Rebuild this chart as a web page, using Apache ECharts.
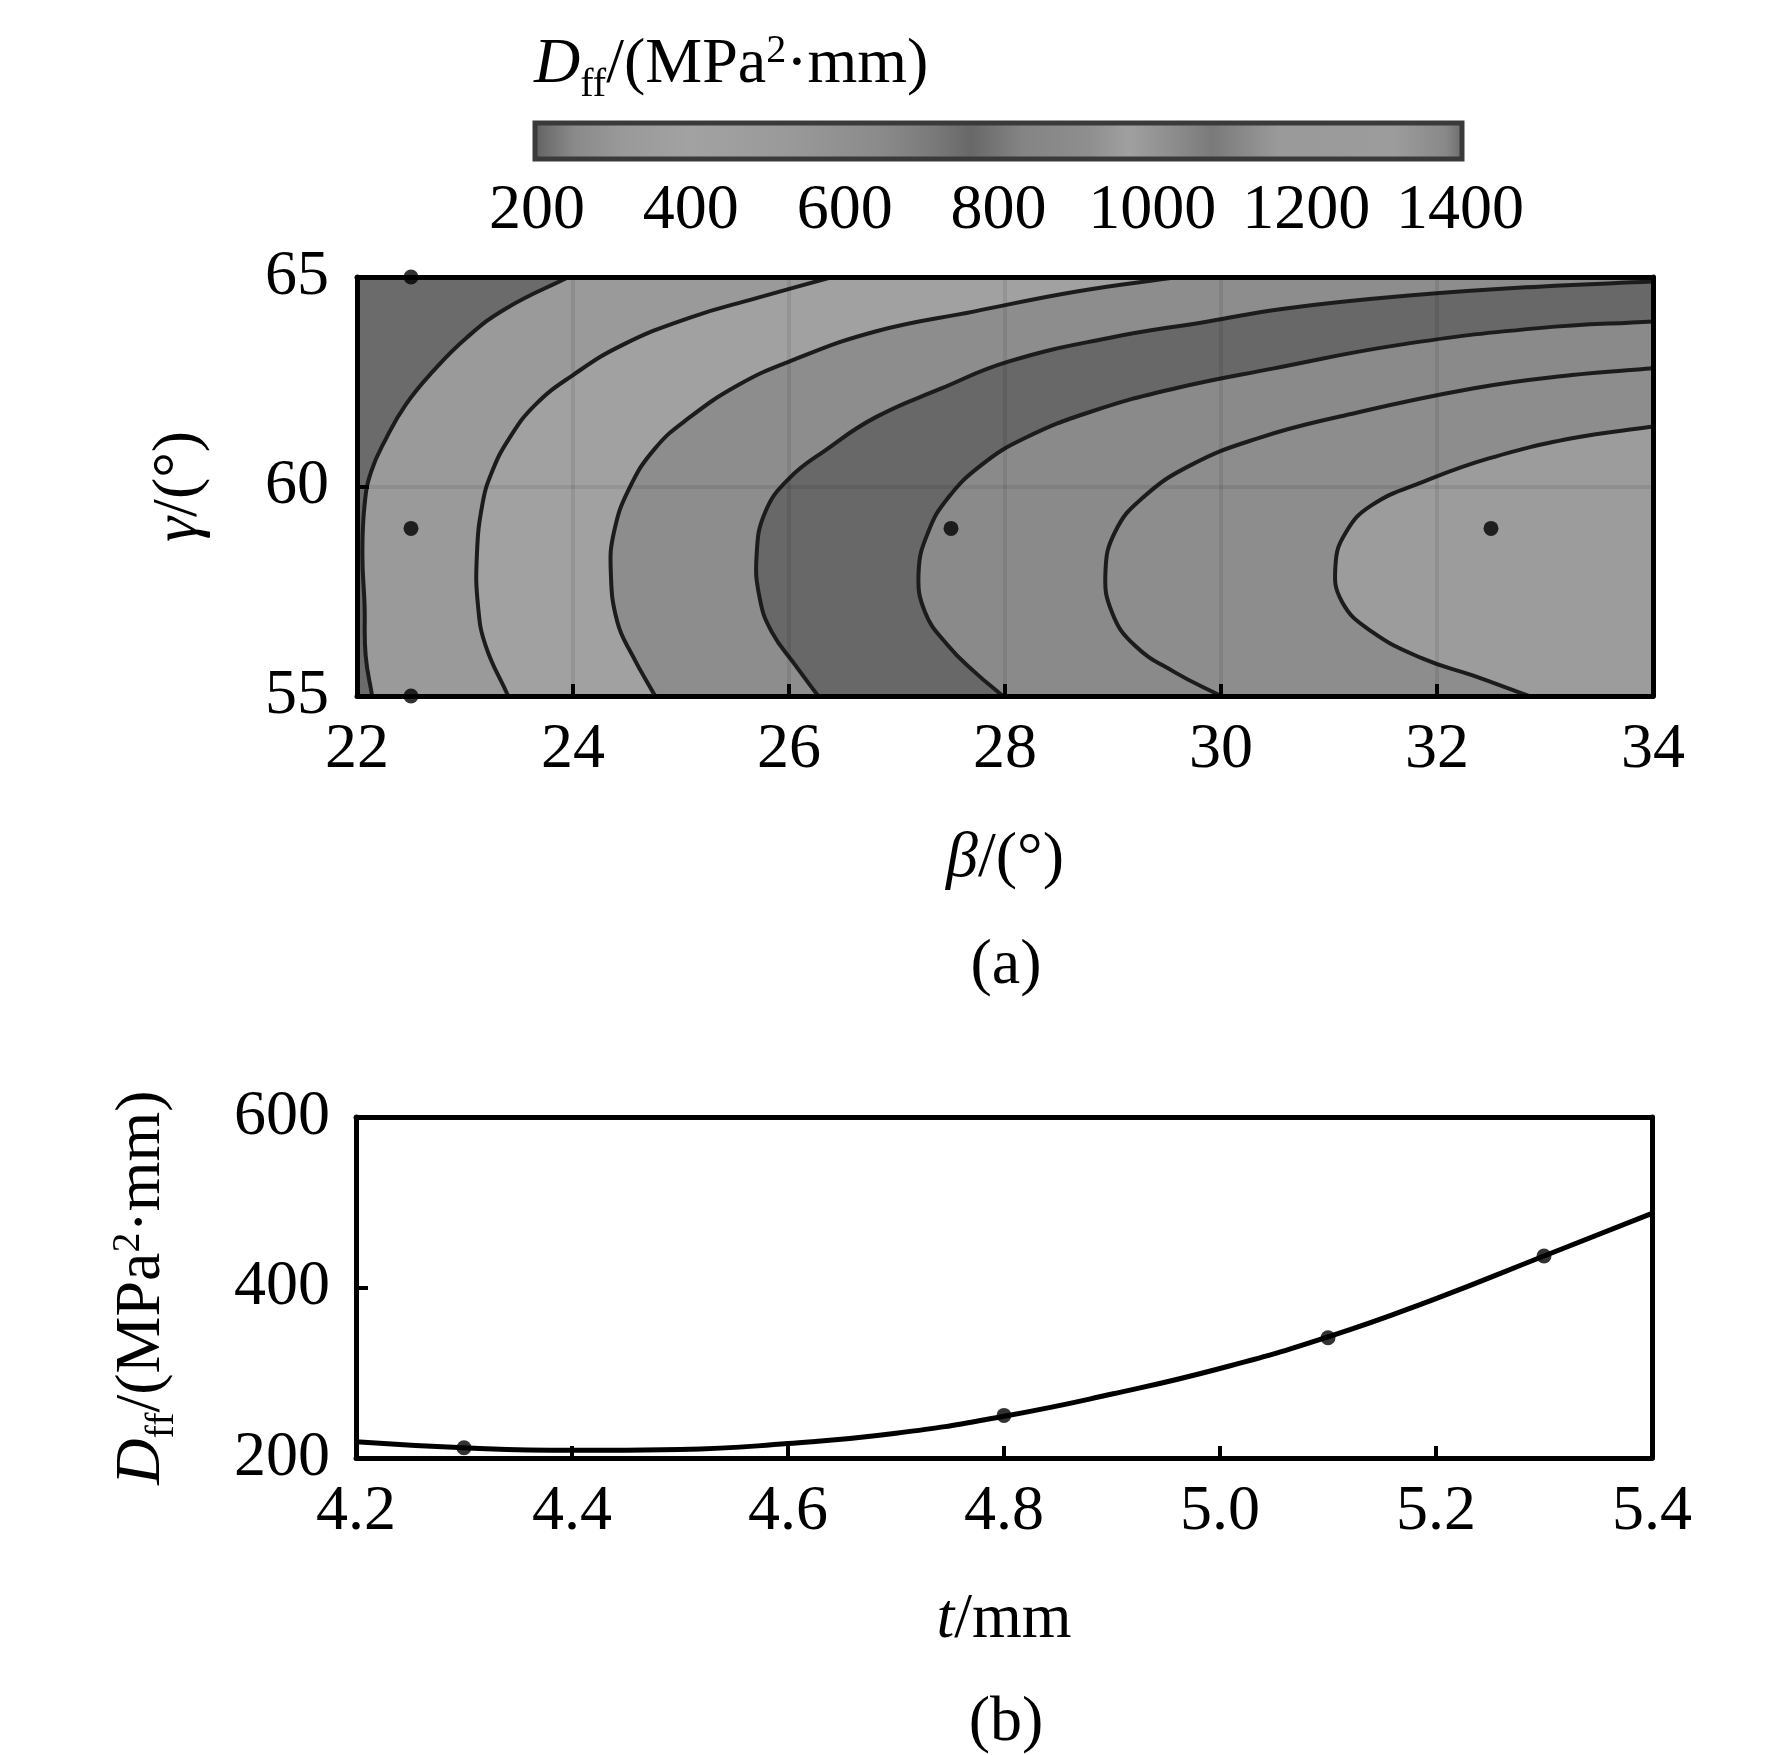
<!DOCTYPE html>
<html>
<head>
<meta charset="utf-8">
<title>Dff</title>
<script src="https://cdn.jsdelivr.net/npm/echarts@6/dist/echarts.min.js"></script>
<style>
    html, body { margin: 0; padding: 0; background: #fff; }
    #chart { width: 1772px; height: 1755px; }
</style>
</head>
<body>
<div id="chart"></div>
<script>
// (a) 等值线取点 [β, γ]，从上端到下端
var contour1 = [[23.96, 65], [23.38, 64.25], [23.01, 63.54], [22.7, 62.74], [22.45, 61.95],
    [22.27, 61.15], [22.13, 60.35], [22.07, 59.56], [22.05, 58.36], [22.07, 57.17], [22.08, 55.97],
    [22.14, 55]];
var contour2 = [[26.4, 65], [25.69, 64.49], [25.07, 64.02], [24.46, 63.38], [24.0, 62.66],
    [23.65, 61.95], [23.41, 61.15], [23.25, 60.35], [23.16, 59.56], [23.11, 58.36], [23.12, 57.17],
    [23.19, 56.21], [23.4, 55]];
var contour3 = [[29.6, 65], [28.65, 64.65], [27.72, 64.18], [26.8, 63.7], [26.0, 62.98],
    [25.53, 62.42], [25.07, 61.63], [24.76, 60.91], [24.52, 59.95], [24.38, 58.92], [24.35, 57.96],
    [24.41, 56.77], [24.55, 55.97], [24.76, 55]];
var contour4 = [[34, 64.89], [32.94, 64.77], [31.71, 64.55], [30.6, 64.25], [29.88, 63.94],
    [28.95, 63.54], [28.03, 62.98], [27.41, 62.34], [26.8, 61.65], [26.34, 60.87], [26.0, 60.19],
    [25.78, 59.39], [25.7, 58.36], [25.73, 57.32], [25.84, 56.53], [26.06, 55.73], [26.27, 55]];
var contour5 = [[34, 63.94], [32.94, 63.78], [31.65, 63.38], [30.49, 62.82], [29.57, 62.34],
    [28.8, 61.79], [28.18, 61.15], [27.78, 60.51], [27.47, 59.72], [27.29, 58.92], [27.2, 57.96],
    [27.26, 57.0], [27.47, 56.21], [27.72, 55.57], [27.98, 55]];
var contour6 = [[34, 62.82], [33.25, 62.66], [32.33, 62.34], [31.1, 61.67], [30.34, 61.15],
    [29.72, 60.51], [29.27, 59.72], [29.02, 58.92], [28.93, 57.96], [28.99, 57.0], [29.2, 56.21],
    [29.57, 55.57], [30.0, 55]];
var contour7 = [[34, 61.43], [33.25, 61.15], [32.48, 60.67], [31.87, 60.11], [31.4, 59.56],
    [31.16, 58.92], [31.06, 58.12], [31.12, 57.25], [31.4, 56.53], [31.87, 55.89], [32.33, 55.49],
    [32.85, 55]];
var contours = [contour1, contour2, contour3, contour4, contour5, contour6, contour7];

// (a) 试验点
var designBeta = [22.5, 22.5, 22.5, 27.5, 32.5];
var designGamma = [65, 59, 55, 59, 59];

// (b) 曲线与数据点
var thickness = [4.2, 4.3, 4.4, 4.5, 4.6, 4.7, 4.8, 4.9, 5.0, 5.1, 5.2, 5.3, 5.4];
var dffCurve = [219, 212, 209, 210, 217, 229, 249, 275, 305, 342, 387, 437, 487];
var markThickness = [4.3, 4.8, 5.1, 5.3];
var markDff = [212, 250, 341, 437];

// 轴范围
var betaMin = 22, betaMax = 34, gammaMin = 55, gammaMax = 65;
var tMin = 4.2, tMax = 5.4, dMin = 200, dMax = 600;
var barMin = 200, barMax = 1400;

// 样式
var serif = '"Liberation Serif", "Times New Roman", serif';
var ink = '#000';
var baseBand = '#6b6b6b';
var bandColors = ['#9a9a9a', '#a1a1a1', '#8d8d8d', '#686868', '#8a8a8a', '#8d8d8d', '#9c9c9c'];
var barStops = [
    [0, '#5a5a5a'], [0.01, '#6a6a6a'], [0.045, '#8a8a8a'], [0.1, '#9a9a9a'], [0.17, '#a2a2a2'],
    [0.27, '#9a9a9a'], [0.375, '#8a8a8a'], [0.43, '#7a7a7a'], [0.47, '#686868'], [0.525, '#848484'],
    [0.595, '#8e8e8e'], [0.64, '#a0a0a0'], [0.685, '#8e8e8e'], [0.73, '#7a7a7a'], [0.8, '#9a9a9a'],
    [0.925, '#9c9c9c'], [0.98, '#888888'], [1, '#6a6a6a']
];
var SMOOTH = 0.45;

var rich = {
    i: { fontFamily: serif, fontSize: 64, fontStyle: 'italic', fontWeight: 'normal', color: ink, lineHeight: 80 },
    n: { fontFamily: serif, fontSize: 64, fontWeight: 'normal', color: ink, lineHeight: 80 },
    sub: { fontFamily: serif, fontSize: 40, fontWeight: 'normal', color: ink, lineHeight: 40, verticalAlign: 'bottom' },
    sup: { fontFamily: serif, fontSize: 40, fontWeight: 'normal', color: ink, lineHeight: 40, verticalAlign: 'top', padding: [6, 0, 0, 0] }
};
var dffName = '{i|D}{sub|ff}{n|/(MPa}{sup|2}{n|·mm)}';

function pairs(xs, ys) {
    return xs.map(function (x, i) { return [x, ys[i]]; });
}

// 像素坐标（首尾点重复，保证平滑曲线与填充边界一致）
function contourPixels(api, k) {
    var pts = contours[k].map(function (p) { return api.coord(p); });
    return [pts[0]].concat(pts, [pts[pts.length - 1]]);
}

function renderBand(params, api) {
    var k = api.value(0);
    var poly = contourPixels(api, k);
    var br = api.coord([betaMax, gammaMin]);
    poly.push(br, br);
    if (contours[k][0][1] >= gammaMax) {
        var tr = api.coord([betaMax, gammaMax]);
        poly.push(tr, tr);
    }
    return {
        type: 'polygon',
        z2: k,
        shape: { points: poly, smooth: SMOOTH },
        style: { fill: bandColors[k], stroke: 'none' }
    };
}

function renderContourLine(params, api) {
    var k = api.value(0);
    return {
        type: 'polyline',
        z2: k,
        shape: { points: contourPixels(api, k), smooth: SMOOTH },
        style: { stroke: '#1c1c1c', lineWidth: 4, fill: 'none' }
    };
}

function mainAxis(grid, min, max, interval, name, gap, split) {
    return {
        type: 'value', gridIndex: grid, min: min, max: max, interval: interval, z: 5,
        name: name, nameLocation: 'middle', nameGap: gap,
        nameTextStyle: { fontFamily: serif, fontSize: 64, color: ink, rich: rich },
        axisLine: { show: true, lineStyle: { color: ink, width: 5 } },
        axisTick: { show: true, inside: true, length: 12, lineStyle: { color: ink, width: 4 } },
        axisLabel: { fontFamily: serif, fontSize: 64, color: ink, margin: 22 },
        splitLine: { show: split, lineStyle: { color: 'rgba(0,0,0,0.08)', width: 4 } }
    };
}

function frameAxis(grid, min, max, position) {
    return {
        type: 'value', gridIndex: grid, min: min, max: max, position: position, z: 5,
        axisLine: { show: true, onZero: false, lineStyle: { color: ink, width: 5 } },
        axisTick: { show: false }, axisLabel: { show: false }, splitLine: { show: false }
    };
}

var xA = mainAxis(0, betaMin, betaMax, 2, '{i|β}{n|/(°)}', 123, true);
var yA = mainAxis(0, gammaMin, gammaMax, 5, '{i|γ}{n|/(°)}', 138, true);
yA.axisLabel.margin = 28;
var xB = mainAxis(1, tMin, tMax, 0.2, '{i|t}{n|/mm}', 122, false);
xB.axisLabel.formatter = function (v) { return v.toFixed(1); };
var yB = mainAxis(1, dMin, dMax, 200, dffName, 174, false);
yB.axisLabel.margin = 26;

var option = {
    animation: false,
    backgroundColor: '#fff',
    title: {
        text: dffName, left: 529, top: 20,
        textStyle: { fontFamily: serif, fontSize: 64, fontWeight: 'normal', color: ink, rich: rich }
    },
    grid: [
        { left: 357, top: 277, width: 1296, height: 419, show: true, backgroundColor: baseBand, borderWidth: 0 },
        { left: 356, top: 1117, width: 1296, height: 341 },
        { left: 537, top: 123, width: 923, height: 36 }
    ],
    xAxis: [
        xA,
        frameAxis(0, betaMin, betaMax, 'top'),
        xB,
        frameAxis(1, tMin, tMax, 'top'),
        {
            type: 'value', gridIndex: 2, min: barMin, max: barMax, interval: 200,
            axisLine: { show: false }, axisTick: { show: false }, splitLine: { show: false },
            axisLabel: {
                fontFamily: serif, fontSize: 64, color: ink, margin: 20,
                formatter: function (v) { return String(v); }
            }
        }
    ],
    yAxis: [
        yA,
        frameAxis(0, gammaMin, gammaMax, 'right'),
        yB,
        frameAxis(1, dMin, dMax, 'right'),
        { type: 'value', gridIndex: 2, show: false }
    ],
    graphic: [
        {
            type: 'rect', z: 10,
            shape: { x: 535, y: 123, width: 927, height: 36 },
            style: {
                fill: new echarts.graphic.LinearGradient(0, 0, 1, 0, barStops.map(function (s) {
                    return { offset: s[0], color: s[1] };
                })),
                stroke: '#3a3a3a', lineWidth: 5
            }
        },
        {
            type: 'text', x: 1006, y: 966,
            style: { text: '(a)', fontFamily: serif, fontSize: 64, fill: ink, align: 'center', verticalAlign: 'middle' }
        },
        {
            type: 'text', x: 1006, y: 1723,
            style: { text: '(b)', fontFamily: serif, fontSize: 64, fill: ink, align: 'center', verticalAlign: 'middle' }
        }
    ],
    series: [
        {
            type: 'custom', xAxisIndex: 0, yAxisIndex: 0, z: 2, silent: true, clip: true,
            data: contours.map(function (c, i) { return i; }),
            renderItem: renderBand
        },
        {
            type: 'custom', xAxisIndex: 0, yAxisIndex: 0, z: 3, silent: true, clip: true,
            data: contours.map(function (c, i) { return i; }),
            renderItem: renderContourLine
        },
        {
            type: 'scatter', xAxisIndex: 0, yAxisIndex: 0, z: 6, clip: false,
            symbolSize: 15, itemStyle: { color: ink },
            data: pairs(designBeta, designGamma)
        },
        {
            type: 'line', xAxisIndex: 2, yAxisIndex: 2, smooth: true, showSymbol: false,
            lineStyle: { color: ink, width: 5 },
            data: pairs(thickness, dffCurve)
        },
        {
            type: 'scatter', xAxisIndex: 2, yAxisIndex: 2, z: 6,
            symbolSize: 15, itemStyle: { color: ink },
            data: pairs(markThickness, markDff)
        }
    ]
};

var chart = echarts.init(document.getElementById('chart'));
chart.setOption(option);
</script>
</body>
</html>
